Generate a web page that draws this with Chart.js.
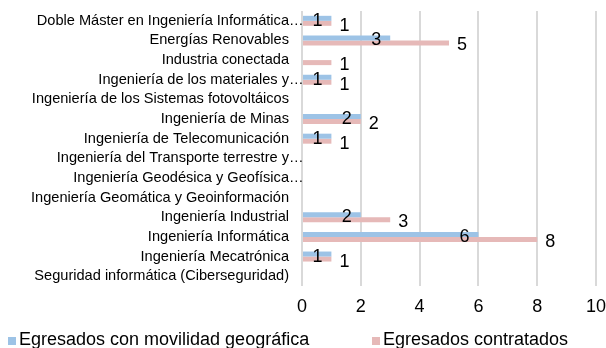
<!DOCTYPE html>
<html><head><meta charset="utf-8">
<script src="https://cdn.jsdelivr.net/npm/chart.js@4"></script>
<style>html,body{margin:0;padding:0;background:#fff}#wrap{width:606px;height:348px}</style>
</head><body><div id="wrap"><canvas id="c" width="606" height="348"></canvas></div>
<script>
const categories = [
  "Doble Máster en Ingeniería Informática…",
  "Energías Renovables",
  "Industria conectada",
  "Ingeniería de los materiales y…",
  "Ingeniería de los Sistemas fotovoltáicos",
  "Ingeniería de Minas",
  "Ingeniería de Telecomunicación",
  "Ingeniería del Transporte terrestre y…",
  "Ingeniería Geodésica y Geofísica…",
  "Ingeniería Geomática y Geoinformación",
  "Ingeniería Industrial",
  "Ingeniería Informática",
  "Ingeniería Mecatrónica",
  "Seguridad informática (Ciberseguridad)"
];
const seriesNames = ["Egresados con movilidad geográfica", "Egresados contratados"];
const movilidad = [1, 3, null, 1, null, 2, 1, null, null, null, 2, 6, 1, null];
const contratados = [1, 5, 1, 1, null, 2, 1, null, null, null, 3, 8, 1, null];
const xTicks = [0, 2, 4, 6, 8, 10];

const FONT = "'Liberation Sans', Arial, sans-serif";

// category labels: text right-aligned, a trailing ellipsis hangs past the edge
const catLabelPlugin = {
  id: 'catLabels',
  afterDraw(chart) {
    const ctx = chart.ctx;
    const ys = chart.scales.y;
    const right = 289;
    ctx.save();
    ctx.font = "14.6px " + FONT;
    ctx.fillStyle = "#000";
    ctx.textBaseline = "middle";
    chart.data.labels.forEach((lab, i) => {
      const y = ys.getPixelForValue(i);
      let base = lab, tail = "";
      if (lab.endsWith("…")) { base = lab.slice(0, -1); tail = "…"; }
      ctx.textAlign = "right";
      ctx.fillText(base, right, y);
      if (tail) { ctx.textAlign = "left"; ctx.fillText(tail, right, y); }
    });
    ctx.restore();
  }
};

const labelPlugin = {
  id: 'barLabels',
  afterDatasetsDraw(chart) {
    const ctx = chart.ctx;
    ctx.save();
    ctx.font = "18px " + FONT;
    ctx.fillStyle = "#000";
    ctx.textAlign = "center";
    ctx.textBaseline = "alphabetic";
    chart.data.datasets.forEach((ds, di) => {
      const meta = chart.getDatasetMeta(di);
      meta.data.forEach((el, i) => {
        const v = ds.data[i];
        if (v === null || v === undefined) return;
        const dx = di === 0 ? -14 : 13;
        ctx.fillText(String(v), el.x + dx, el.y + 7.5);
      });
    });
    ctx.restore();
  }
};

const legendPlugin = {
  id: 'customLegend',
  afterDraw(chart) {
    const ctx = chart.ctx;
    const items = [{ box: 8, text: 19 }, { box: 372, text: 383 }];
    ctx.save();
    ctx.font = "18px " + FONT;
    ctx.textBaseline = "alphabetic";
    ctx.textAlign = "left";
    chart.data.datasets.forEach((ds, i) => {
      const it = items[i];
      ctx.fillStyle = ds.backgroundColor;
      ctx.fillRect(it.box, 337, 8, 8);
      ctx.fillStyle = "#000";
      ctx.fillText(ds.label, it.text, 345);
    });
    ctx.restore();
  }
};

new Chart(document.getElementById('c'), {
  type: 'bar',
  data: {
    labels: categories,
    datasets: [
      { label: seriesNames[0], data: movilidad, backgroundColor: "#9dc3e6", categoryPercentage: 0.51, barPercentage: 1.0 },
      { label: seriesNames[1], data: contratados, backgroundColor: "#e6b9b8", categoryPercentage: 0.51, barPercentage: 1.0 }
    ]
  },
  options: {
    indexAxis: 'y',
    responsive: false,
    animation: false,
    layout: { padding: { left: 0, right: 10, top: 11, bottom: 0 } },
    plugins: {
      tooltip: { enabled: false },
      legend: { display: false }
    },
    scales: {
      x: {
        min: 0, max: 10,
        afterBuildTicks(scale) { scale.ticks = xTicks.map(v => ({ value: v })); },
        afterFit(scale) { scale.height = 62; scale.paddingLeft = 0; scale.paddingRight = 0; },
        grid: { color: "#d9d9d9", lineWidth: 2, drawTicks: false },
        border: { display: false },
        ticks: { color: "#000", font: { family: FONT, size: 18 }, padding: 10 }
      },
      y: {
        afterFit(scale) { scale.width = 302; scale.paddingTop = 0; scale.paddingBottom = 0; },
        grid: { display: false },
        border: { display: false },
        ticks: { display: false, autoSkip: false }
      }
    }
  },
  plugins: [catLabelPlugin, labelPlugin, legendPlugin]
});
</script></body></html>
